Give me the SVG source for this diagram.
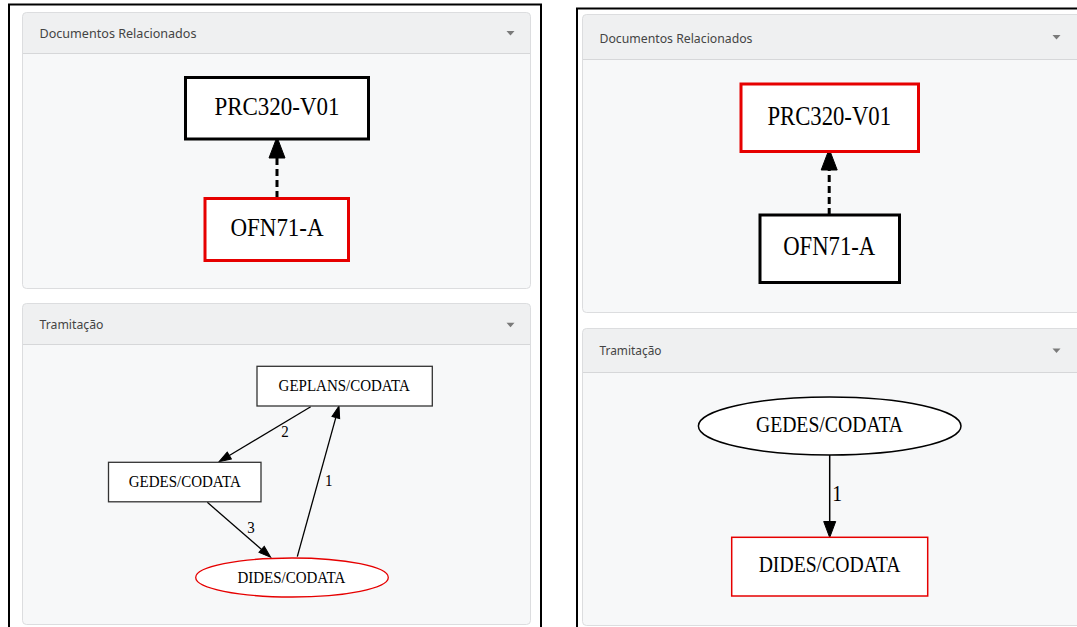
<svg xmlns="http://www.w3.org/2000/svg" width="1077" height="627" viewBox="0 0 1077 627">
<style>
.bg{fill:#fff}
.frame{fill:none;stroke:#000;stroke-width:2}
.pbody{fill:#f7f8f9}
.phead{fill:#eff0f1}
.pborder{fill:none;stroke:#dcdddf;stroke-width:1}
.hline{stroke:#d6d7d9;stroke-width:1}
.htext{font-family:"Noto Sans","Open Sans",sans-serif;font-size:13px;fill:#444}
.caret{fill:#7a7a7a}
.n{fill:#fff}
.thick{stroke-width:3}
.thin{stroke-width:1.3}
.blk{stroke:#000}
.gry{stroke:#333}
.red{stroke:#e60000}
.nt{font-family:"Liberation Serif","Times New Roman",serif;fill:#000;text-anchor:middle}
.e{fill:none;stroke:#000}
.dash{stroke-width:3;stroke-dasharray:7 4}
.ah{fill:#000;stroke:#000;stroke-width:1}
</style>
<defs>
<marker id="ahBig" markerUnits="userSpaceOnUse" markerWidth="24" markerHeight="18" refX="0" refY="9" orient="auto" overflow="visible"><path class="ah" d="M0,1 L21,9 L0,17 Z"/></marker>
<marker id="ahSmall" markerUnits="userSpaceOnUse" markerWidth="14" markerHeight="10" refX="0" refY="5" orient="auto" overflow="visible"><path class="ah" d="M0,1 L12,5 L0,9 Z"/></marker>
<marker id="ahMid" markerUnits="userSpaceOnUse" markerWidth="18" markerHeight="14" refX="0" refY="7" orient="auto" overflow="visible"><path class="ah" d="M0,1 L16,7 L0,13 Z"/></marker>
</defs>
<rect class="bg" x="0" y="0" width="1077" height="627"/>

<g id="frames">
<rect class="frame" x="9" y="4.5" width="532" height="640"/>
<rect class="frame" x="577" y="8.5" width="520" height="640"/>
</g>

<g id="panel-left-docs">
<rect class="pbody" x="22.5" y="12.5" width="508" height="276" rx="4"/>
<path class="phead" d="M22.5,53.5 V16.5 A4,4 0 0 1 26.5,12.5 H526.5 A4,4 0 0 1 530.5,16.5 V53.5 Z"/>
<line class="hline" x1="22.5" y1="53.5" x2="530.5" y2="53.5"/>
<rect class="pborder" x="22.5" y="12.5" width="508" height="276" rx="4"/>
<text class="htext" x="39.5" y="37.7" textLength="157" lengthAdjust="spacingAndGlyphs">Documentos Relacionados</text>
<polygon class="caret" points="506.5,31 514.5,31 510.5,35.5"/>
</g>

<g id="panel-left-tram">
<rect class="pbody" x="22.5" y="303.5" width="508" height="321" rx="4"/>
<path class="phead" d="M22.5,344.5 V307.5 A4,4 0 0 1 26.5,303.5 H526.5 A4,4 0 0 1 530.5,307.5 V344.5 Z"/>
<line class="hline" x1="22.5" y1="344.5" x2="530.5" y2="344.5"/>
<rect class="pborder" x="22.5" y="303.5" width="508" height="321" rx="4"/>
<text class="htext" x="39.5" y="329.3" textLength="64" lengthAdjust="spacingAndGlyphs">Tramitação</text>
<polygon class="caret" points="506.5,322.7 514.5,322.7 510.5,327.2"/>
</g>

<g id="panel-right-docs">
<rect class="pbody" x="582.5" y="14.5" width="510" height="298" rx="4"/>
<path class="phead" d="M582.5,59.5 V18.5 A4,4 0 0 1 586.5,14.5 H1092.5 V59.5 Z"/>
<line class="hline" x1="582.5" y1="59.5" x2="1092.5" y2="59.5"/>
<rect class="pborder" x="582.5" y="14.5" width="510" height="298" rx="4"/>
<text class="htext" x="599.5" y="42.7" textLength="153" lengthAdjust="spacingAndGlyphs">Documentos Relacionados</text>
<polygon class="caret" points="1052.5,35 1060.5,35 1056.5,39.5"/>
</g>

<g id="panel-right-tram">
<rect class="pbody" x="582.5" y="328.5" width="510" height="297" rx="4"/>
<path class="phead" d="M582.5,372.5 V332.5 A4,4 0 0 1 586.5,328.5 H1092.5 V372.5 Z"/>
<line class="hline" x1="582.5" y1="372.5" x2="1092.5" y2="372.5"/>
<rect class="pborder" x="582.5" y="328.5" width="510" height="297" rx="4"/>
<text class="htext" x="599.5" y="355" textLength="62" lengthAdjust="spacingAndGlyphs">Tramitação</text>
<polygon class="caret" points="1052.5,348.5 1060.5,348.5 1056.5,353"/>
</g>

<g id="connectors">
<line class="e dash" x1="277" y1="198" x2="277" y2="158" marker-end="url(#ahBig)"/>
<line class="e dash" x1="829.2" y1="215" x2="829.2" y2="170" marker-end="url(#ahBig)"/>
<line class="e thin" x1="310.7" y1="406.7" x2="229.3" y2="455.5" marker-end="url(#ahSmall)"/>
<line class="e thin" x1="297.3" y1="556.7" x2="335.8" y2="417.6" marker-end="url(#ahSmall)"/>
<line class="e thin" x1="207.3" y1="502.3" x2="261.6" y2="549.4" marker-end="url(#ahSmall)"/>
<line class="e" stroke-width="1.5" x1="829.7" y1="455" x2="829.7" y2="521.5" marker-end="url(#ahMid)"/>
<text class="nt" font-size="15" transform="translate(285,437.3) scale(1,1.12)">2</text>
<text class="nt" font-size="15" transform="translate(328.7,486) scale(1,1.12)">1</text>
<text class="nt" font-size="15" transform="translate(251,533.3) scale(1,1.12)">3</text>
<text class="nt" font-size="19.7" transform="translate(837.3,501) scale(1,1.14)">1</text>
</g>

<g id="node-l-prc320">
<rect class="n blk thick" x="185.5" y="77.5" width="183" height="61.5"/>
<text class="nt" font-size="23" transform="translate(277,115) scale(1,1.12)">PRC320-V01</text>
</g>
<g id="node-l-ofn71">
<rect class="n red thick" x="205" y="198.5" width="143.5" height="62"/>
<text class="nt" font-size="23" transform="translate(277,236) scale(1,1.12)">OFN71-A</text>
</g>

<g id="node-r-prc320">
<rect class="n red thick" x="741" y="84" width="177.5" height="67.5"/>
<text class="nt" font-size="22.7" transform="translate(829.2,125) scale(1,1.16)">PRC320-V01</text>
</g>
<g id="node-r-ofn71">
<rect class="n blk thick" x="760" y="215" width="139.5" height="67.5"/>
<text class="nt" font-size="22.7" transform="translate(829.2,255) scale(1,1.16)">OFN71-A</text>
</g>

<g id="node-l-geplans">
<rect class="n gry thin" x="257" y="366.3" width="175.3" height="39.7"/>
<text class="nt" font-size="15" transform="translate(344.2,391.3) scale(1,1.12)">GEPLANS/CODATA</text>
</g>
<g id="node-l-gedes">
<rect class="n gry thin" x="108.5" y="462.3" width="152.5" height="39.5"/>
<text class="nt" font-size="15" transform="translate(184.7,486.5) scale(1,1.12)">GEDES/CODATA</text>
</g>
<g id="node-l-dides">
<ellipse class="n red thin" cx="292" cy="577.5" rx="96.3" ry="19.5"/>
<text class="nt" font-size="15" transform="translate(291.3,582.5) scale(1,1.12)">DIDES/CODATA</text>
</g>

<g id="node-r-gedes">
<ellipse class="n blk" stroke-width="1.5" cx="829.7" cy="426" rx="131.3" ry="29"/>
<text class="nt" font-size="19.7" transform="translate(829.5,432.3) scale(1,1.14)">GEDES/CODATA</text>
</g>
<g id="node-r-dides">
<rect class="n red" stroke-width="1.5" x="731.7" y="537.3" width="196" height="58.7"/>
<text class="nt" font-size="19.7" transform="translate(829.5,571.7) scale(1,1.16)">DIDES/CODATA</text>
</g>
</svg>
